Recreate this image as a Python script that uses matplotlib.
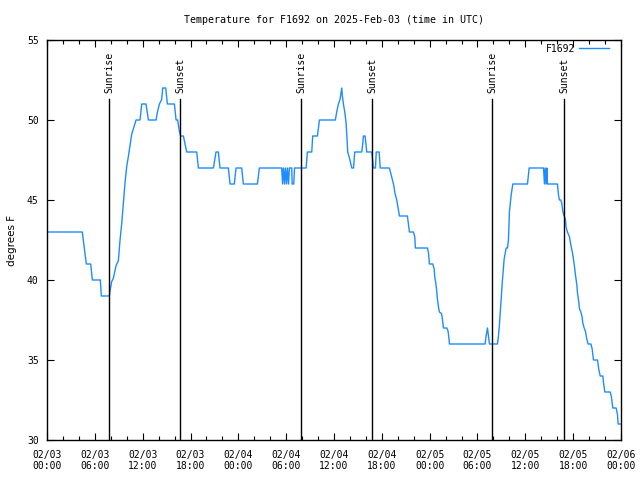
import matplotlib
matplotlib.use("Agg")
import matplotlib.pyplot as plt
import matplotlib.transforms as mtransforms
from matplotlib.ticker import MultipleLocator

# hours since 2025-02-03 00:00 UTC
hours = [0.15, 4.43, 4.68, 4.93, 5.48, 5.69, 6.69, 6.82, 7.82, 7.90,
         8.11, 8.32, 8.66, 8.95, 9.16, 9.37, 9.58, 9.79, 10.0, 10.2,
         10.41, 10.62, 11.17, 11.67, 11.88, 12.42, 12.72, 13.68, 13.85, 14.1,
         14.39, 14.51, 14.89, 15.1, 15.98, 16.19, 16.39, 16.6, 16.77, 17.11,
         17.31, 17.52, 18.78, 18.99, 20.87, 21.2, 21.5, 21.7, 22.75, 22.96,
         23.5, 23.71, 24.42, 24.63, 26.39, 26.64, 29.44, 29.55, 29.65, 29.8,
         29.9, 30.05, 30.15, 30.3, 30.4, 30.7, 30.75, 30.95, 31.05, 32.5,
         32.66, 33.21, 33.33, 33.92, 34.17, 36.17, 36.34, 36.55, 36.76, 36.97,
         37.05, 37.18, 37.35, 37.52, 37.72, 37.95, 38.23, 38.45, 38.6, 39.48,
         39.6, 39.69, 39.9, 40.11, 40.74, 40.94, 41.2, 41.3, 41.66, 41.8,
         42.95, 43.25, 43.46, 43.66, 43.87, 44.21, 45.21, 45.46, 45.96, 46.13,
         46.21, 47.72, 47.85, 47.97, 48.39, 48.56, 48.64, 48.77, 48.89, 48.97,
         49.14, 49.23, 49.48, 49.56, 49.65, 49.73, 50.15, 50.31, 50.44, 50.48,
         54.95, 55.08, 55.25, 55.37, 55.5, 56.5, 56.63, 56.75, 56.92, 57.13,
         57.34, 57.59, 57.76, 57.88, 58.01, 58.22, 58.43, 60.27, 60.48, 62.28,
         62.4, 62.49, 62.61, 62.7, 62.78, 64.03, 64.16, 64.28, 64.45, 64.57,
         64.7, 64.86, 65.03, 65.11, 65.28, 65.54, 65.7, 65.87, 66.04, 66.2,
         66.29, 66.46, 66.54, 66.71, 66.79, 66.96, 67.12, 67.21, 67.38, 67.54,
         67.71, 67.88, 68.22, 68.38, 68.55, 69.05, 69.22, 69.39, 69.72, 69.8,
         69.97, 70.64, 70.8, 70.97, 71.39, 71.56, 71.64, 71.95]
temps = [43, 43, 42, 41, 41, 40, 40, 39, 39, 39.3,
         39.9, 40.1, 40.9, 41.2, 42.5, 43.5, 44.8, 46.1, 47.1, 47.7,
         48.4, 49.1, 50, 50, 51, 51, 50, 50, 50.5, 51,
         51.3, 52, 52, 51, 51, 50, 50, 49.3, 49, 49,
         48.5, 48, 48, 47, 47, 48, 48, 47, 47, 46,
         46, 47, 47, 46, 46, 47, 47, 46, 47, 46,
         47, 46, 47, 46, 47, 47, 46, 46, 47, 47,
         48, 48, 49, 49, 50, 50, 50.5, 51, 51.3, 52,
         51.5, 51, 50.5, 49.8, 48, 47.6, 47, 47, 48, 48,
         48.5, 49, 49, 48, 48, 47, 47, 48, 48, 47,
         47, 46.4, 46, 45.4, 45, 44, 44, 43, 43, 42.7,
         42, 42, 41.7, 41, 41, 40.7, 40.2, 39.8, 39.3, 38.8,
         38.2, 38, 37.9, 37.7, 37.3, 37, 37, 36.8, 36.25, 36,
         36, 36.5, 37, 36.5, 36, 36, 36.5, 37.2, 38.5, 40,
         41.3, 42, 42, 42.5, 44.3, 45.3, 46, 46, 47, 47,
         46, 47, 46, 47, 46, 46, 45.3, 45, 45, 44.8,
         44.3, 44, 43.8, 43.3, 43, 42.7, 42.2, 41.8, 41.3, 40.7,
         40.3, 39.7, 39.2, 38.6, 38.2, 38, 37.7, 37.3, 37, 36.8,
         36.3, 36, 36, 35.7, 35, 35, 34.4, 34, 34, 33.6,
         33, 33, 32.7, 32, 32, 31.6, 31, 31]

sunrise = [7.82, 31.88, 55.88]
sunset = [16.73, 40.82, 64.91]

tick_hours = list(range(0, 73, 6))
tick_labels = ["02/03\n00:00", "02/03\n06:00", "02/03\n12:00", "02/03\n18:00",
               "02/04\n00:00", "02/04\n06:00", "02/04\n12:00", "02/04\n18:00",
               "02/05\n00:00", "02/05\n06:00", "02/05\n12:00", "02/05\n18:00",
               "02/06\n00:00"]

mono = "DejaVu Sans Mono"

fig = plt.figure(figsize=(6.4, 4.8), dpi=100)
ax = fig.add_axes([47 / 640, 40 / 480, 574 / 640, 400 / 480])

ax.plot(hours, temps, color="#1e8cff", lw=1.0, label="F1692")

trans = mtransforms.blended_transform_factory(ax.transData, ax.transAxes)
for x in sunrise:
    ax.axvline(x, ymax=0.8525, color="black", lw=1.0)
    ax.text(x, 0.868, "Sunrise", rotation=90, ha="center", va="bottom",
            transform=trans, fontsize=7, family=mono)
for x in sunset:
    ax.axvline(x, ymax=0.8525, color="black", lw=1.0)
    ax.text(x, 0.868, "Sunset", rotation=90, ha="center", va="bottom",
            transform=trans, fontsize=7, family=mono)

ax.set_xlim(0, 72)
ax.set_ylim(30, 55)
ax.set_xticks(tick_hours)
ax.set_xticklabels(tick_labels, family=mono, fontsize=7)
ax.xaxis.set_minor_locator(MultipleLocator(2))
ax.yaxis.set_major_locator(MultipleLocator(5))
for lab in ax.get_yticklabels():
    lab.set_family(mono)
    lab.set_fontsize(7)
ax.tick_params(which="both", direction="in", top=True, right=True, width=0.8)
ax.tick_params(axis="x", which="major", length=5, pad=7)
ax.tick_params(axis="y", which="major", length=5, pad=6)
ax.tick_params(which="minor", length=3)
for s in ax.spines.values():
    s.set_linewidth(1.0)

ax.set_title("Temperature for F1692 on 2025-Feb-03 (time in UTC)",
             family=mono, fontsize=7.2, pad=12.5)
ax.set_ylabel("degrees F", fontsize=7.5, labelpad=7)

ax.legend(loc="upper right", bbox_to_anchor=(1 - 5 / 574, 1 + 3 / 400),
          frameon=False, markerfirst=False,
          handlelength=3.1, handletextpad=0.4, borderaxespad=0.3,
          prop={"family": mono, "size": 7})

fig.savefig("out.png", dpi=100)
